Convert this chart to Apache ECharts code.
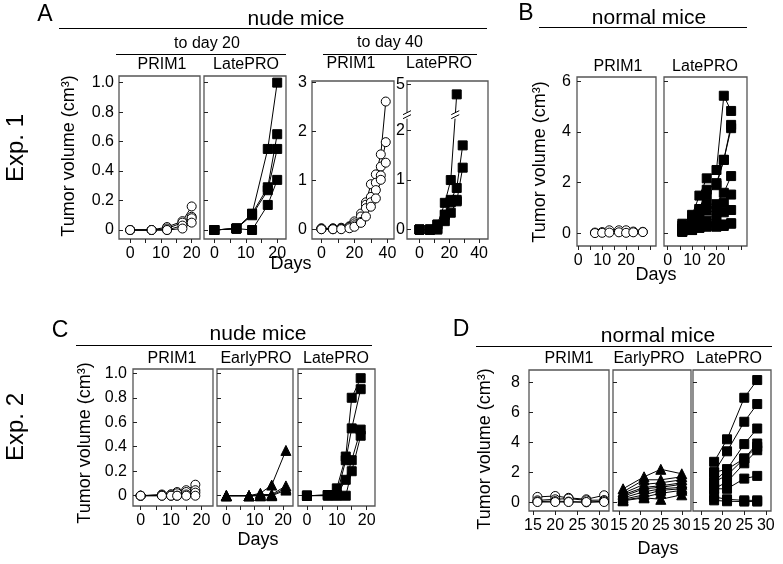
<!DOCTYPE html>
<html>
<head>
<meta charset="utf-8">
<script src="https://cdn.jsdelivr.net/npm/echarts@6/dist/echarts.min.js"></script>
<style>
  html, body { margin: 0; padding: 0; background: #fff; }
  #main { width: 783px; height: 564px; }
</style>
</head>
<body>
<div id="main"></div>
<script>
// Exp. 1, A: nude mice, to day 20
const aDays20 = [0, 7, 12, 17, 20]
const aPrim1Vol20 = [
  [0, 0, 0.02, 0.06, 0.16],
  [0, 0, 0.01, 0.05, 0.09],
  [0, 0, 0, 0.03, 0.08],
  [0, 0, 0, 0.01, 0.05]
]
const aLateVol20 = [
  [0, 0.01, 0.11, 0.55, 1.0],
  [0, 0.01, 0.11, 0.29, 0.65],
  [0, 0.01, 0.1, 0.27, 0.55],
  [0, 0.01, 0, 0.17, 0.34]
]
// A: to day 40
const aPrim1Days40 = [0, 7, 12, 17, 20, 24, 27, 30, 33, 36, 39]
const aPrim1Vol40 = [
  [0.02, 0.02, 0.03, 0.06, 0.16, 0.32, 0.55, 0.92, 1.12, 1.53, 2.61],
  [0.01, 0.01, 0.02, 0.05, 0.12, 0.26, 0.5, 0.66, 0.95, 1.28, 1.78],
  [0, 0, 0.01, 0.04, 0.08, 0.15, 0.43, 0.55, 0.8, 1.1, 1.36],
  [0, 0, 0, 0.02, 0.05, 0.13, 0.26, 0.46, 0.63, 1.01]
]
const aLateDays40 = [0, 7, 12, 17, 21, 25, 29]
const aLateVol40 = [
  [0, 0, 0.1, 0.54, 1.0, 4.8],
  [0, 0, 0.1, 0.3, 0.6, 0.84, 1.7],
  [0, 0, 0, 0.17, 0.34, 0.57, 1.25],
  [0, 0, 0.02, 0.3, 0.55, 0.6]
]
// B: normal mice
const bPrim1Days = [7, 10, 13, 17, 20, 23, 27]
const bPrim1Vol = [
  [0.03, 0.05, 0.12, 0.12, 0.12, 0.07, 0.06],
  [0.01, 0.02, 0.03, 0.04, 0.02, 0.04, 0.05]
]
const bLateDays = [6, 10, 13, 16, 20, 23, 26]
const bLateVol = [
  [0.38, 0.73, 1.49, 2.17, 2.5, 5.43, 4.83],
  [0.3, 0.57, 0.96, 1.72, 1.98, 2.9, 4.28],
  [0.19, 0.45, 0.96, 1.5, 1.9, 2.9, 4.15],
  [0.19, 0.45, 0.7, 1.15, 1.15, 1.6, 2.26],
  [0.12, 0.26, 0.45, 0.9, 0.83, 1.2, 1.53],
  [0.06, 0.13, 0.22, 0.5, 0.57, 0.83, 0.92],
  [0.06, 0.13, 0.22, 0.26, 0.26, 0.29, 0.38],
  [0.1, 0.2, 0.3, 0.3, 0.3, 0.35, 0.4]
]
// Exp. 2, C: nude mice
const cPrim1Days = [0, 7, 10, 12, 15, 18]
const cPrim1Vol = [
  [0, 0.01, 0.01, 0.03, 0.045, 0.09],
  [0, 0.005, 0.01, 0.02, 0.03, 0.045],
  [0, 0, 0, 0, 0.01, 0.025],
  [0, 0, 0, 0, 0, 0]
]
const cEarlyDays = [0, 8, 12, 16, 21]
const cEarlyVol = [
  [0, 0, 0.02, 0.087, 0.37],
  [0, 0, 0.01, 0.01, 0.08],
  [0, 0, 0, 0.005, 0.06],
  [0, 0, 0, 0, 0.046]
]
const cLateDays = [0, 7, 10, 13, 15, 18]
const cLateVol = [
  [0, 0.005, 0.06, 0.32, 0.8, 0.96],
  [0, 0.005, 0.005, 0.29, 0.55, 0.87],
  [0, 0.005, 0.005, 0.13, 0.29, 0.54],
  [0, 0, 0, 0, 0.2, 0.49]
]
// D: normal mice
const dPrim1Days = [16, 20, 23, 27, 31]
const dPrim1Vol = [
  [0.36, 0.42, 0.3, 0.2, 0.47],
  [0.13, 0.2, 0.25, 0.13, 0.15],
  [0.05, 0.08, 0.05, 0.0, 0.08],
  [0.02, 0.02, 0.02, 0.02, 0.02]
]
const dEarlyDays = [16, 21, 25, 30]
const dEarlyVol = [
  [0.9, 1.7, 2.2, 1.9],
  [0.7, 1.5, 1.5, 1.7],
  [0.6, 1.2, 1.3, 1.5],
  [0.5, 1.0, 1.1, 1.3],
  [0.4, 0.9, 1.0, 1.2],
  [0.3, 0.7, 0.9, 1.0],
  [0.2, 0.5, 0.8, 0.9],
  [0.15, 0.35, 0.6, 0.8],
  [0.1, 0.3, 0.2, 0.5]
]
const dLateDays = [18, 21, 25, 28]
const dLateVol = [
  [2.7, 4.2, 6.97, 8.15],
  [2.0, 3.4, 5.37, 6.55],
  [2.0, 2.2, 3.88, 4.92],
  [1.36, 2.2, 2.92, 3.92],
  [1.36, 1.8, 2.92, 3.7],
  [0.9, 1.36, 2.6, 3.47],
  [0.9, 0.9, 1.58, 1.76],
  [0.36, 0.2, 0.13, 0.13],
  [0.13, 0.07, 0.05, 0.05]
]

// tick labels
const ticksFrac = [0, 0.2, 0.4, 0.6, 0.8, 1]
const ticks40 = [0, 1, 2, 3]
const ticksBreak = [0, 1, 2, 5]
const ticksB = [0, 2, 4, 6]
const ticksD = [0, 2, 4, 6, 8]
const daysTo20 = [0, 10, 20]
const daysTo40 = [0, 20, 40]
const daysD = [15, 20, 25, 30]

const FONT = '"Liberation Sans", Arial, Helvetica, sans-serif'

// broken y axis of the "to day 40" LatePRO panel: values above the break are shifted down
const BREAK_SHIFT = 2.07
const breakPos = v => (v < 3 ? v : v - BREAK_SHIFT)
const fmtFrac = v => (v === 0 ? '0' : v.toFixed(1))
const fmtInt = v => String(Math.round(v))

const panels = [
  { box: [119, 76, 81, 163], x: [-3.6, 22.7], y: [-0.061, 1.045], xl: daysTo20, xt: [0, 5, 10, 15, 20], yt: ticksFrac, fmt: fmtFrac, ym: 5, days: aDays20, vols: aPrim1Vol20, mark: 'open' },
  { box: [204, 76, 82, 163], x: [-3.3, 22.8], y: [-0.061, 1.045], xl: daysTo20, xt: [0, 5, 10, 15, 20], yt: ticksFrac, days: aDays20, vols: aLateVol20, mark: 'square' },
  { box: [312, 81, 82, 158], x: [-5.7, 44], y: [-0.2, 3.03], xl: daysTo40, xt: [0, 10, 20, 30, 40], yt: ticks40, fmt: fmtInt, ym: 5, days: aPrim1Days40, vols: aPrim1Vol40, mark: 'open' },
  { box: [407, 81, 81, 158], x: [-8.4, 46], y: [-0.19, 3.0], xl: daysTo40, xt: [0, 10, 20, 30, 40], yt: ticksBreak.map(breakPos), fmt: v => fmtInt(v < 2.5 ? v : v + BREAK_SHIFT), ym: 2, days: aLateDays40, vols: aLateVol40, mark: 'square', map: breakPos },
  { box: [577, 77, 79, 169], x: [-0.5, 32.5], y: [-0.5, 6.17], xl: daysTo20, xt: [0, 5, 10, 15, 20, 25, 30], yt: ticksB, fmt: fmtInt, ym: 6, days: bPrim1Days, vols: bPrim1Vol, mark: 'open' },
  { box: [664, 77, 83, 169], x: [-1.5, 32.5], y: [-0.5, 6.17], xl: daysTo20, xt: [0, 5, 10, 15, 20, 25, 30], yt: ticksB, days: bLateDays, vols: bLateVol, mark: 'square' },
  { box: [133, 369, 80, 137], x: [-2.5, 23.8], y: [-0.084, 1.035], xl: daysTo20, xt: [0, 5, 10, 15, 20], yt: ticksFrac, fmt: fmtFrac, ym: 6, days: cPrim1Days, vols: cPrim1Vol, mark: 'open' },
  { box: [217, 369, 76, 137], x: [-3.3, 23.5], y: [-0.084, 1.035], xl: daysTo20, xt: [0, 5, 10, 15, 20], yt: ticksFrac, days: cEarlyDays, vols: cEarlyVol, mark: 'triangle' },
  { box: [298, 369, 77, 137], x: [-3.0, 22.8], y: [-0.084, 1.035], xl: daysTo20, xt: [0, 5, 10, 15, 20], yt: ticksFrac, days: cLateDays, vols: cLateVol, mark: 'square' },
  { box: [529, 370, 80, 141], x: [14.1, 32.1], y: [-0.58, 8.82], xl: daysD, xt: daysD, yt: ticksD, fmt: fmtInt, ym: 9, days: dPrim1Days, vols: dPrim1Vol, mark: 'open' },
  { box: [613, 370, 78, 141], x: [13.6, 32.2], y: [-0.58, 8.82], xl: daysD, xt: daysD, yt: ticksD, days: dEarlyDays, vols: dEarlyVol, mark: 'triangle' },
  { box: [693, 370, 78, 141], x: [13.1, 31.2], y: [-0.58, 8.82], xl: daysD, xt: daysD, yt: ticksD, days: dLateDays, vols: dLateVol, mark: 'square' }
]

const markStyles = {
  open: { symbol: 'circle', size: 9, fill: '#fff' },
  square: { symbol: 'rect', size: 9, fill: '#000' },
  triangle: { symbol: 'triangle', size: 10, fill: '#000' }
}

const grid = []
const xAxis = []
const yAxis = []
const series = []

panels.forEach((p, i) => {
  grid.push({
    left: p.box[0], top: p.box[1], width: p.box[2], height: p.box[3],
    show: true, borderColor: '#555', borderWidth: 1.3, backgroundColor: '#fff'
  })
  xAxis.push({
    type: 'value', gridIndex: i, min: p.x[0], max: p.x[1],
    splitLine: { show: false },
    axisLine: { show: false, onZero: false },
    axisTick: { show: true, length: 4, customValues: p.xt, lineStyle: { color: '#222', width: 1 } },
    axisLabel: { customValues: p.xl, fontSize: 16, color: '#000', fontFamily: FONT, margin: 7 }
  })
  yAxis.push({
    type: 'value', gridIndex: i, min: p.y[0], max: p.y[1],
    splitLine: { show: false },
    axisLine: { show: false, onZero: false },
    axisTick: { show: true, inside: true, length: 4, customValues: p.yt, lineStyle: { color: '#222', width: 1 } },
    axisLabel: {
      show: !!p.fmt, customValues: p.yt, formatter: p.fmt,
      fontSize: 16, color: '#000', fontFamily: FONT, margin: p.ym || 5
    }
  })
  const m = markStyles[p.mark]
  p.vols.forEach(vals => {
    series.push({
      type: 'line', xAxisIndex: i, yAxisIndex: i,
      data: vals.map((v, k) => [p.days[k], p.map ? p.map(v) : v]),
      symbol: m.symbol, symbolSize: m.size, showSymbol: true,
      lineStyle: { color: '#000', width: 1 },
      itemStyle: { color: m.fill, borderColor: '#000', borderWidth: 1 },
      silent: true, animation: false
    })
  })
})

function label(text, x, y, size, rot) {
  return {
    type: 'text', x: x, y: y, rotation: rot || 0, z: 10,
    style: { text: text, fontSize: size, fontFamily: FONT, fill: '#000', align: 'center', verticalAlign: 'middle' }
  }
}
function rule(x1, x2, y) {
  return { type: 'line', z: 10, shape: { x1: x1, y1: y, x2: x2, y2: y }, style: { stroke: '#000', lineWidth: 1 } }
}

const V = Math.PI / 2
const graphic = [
  // panel letters
  label('A', 45, 15, 23), label('B', 526, 14, 23), label('C', 60, 331, 23), label('D', 461, 330, 23),
  // experiment labels
  label('Exp. 1', 16, 148, 24, V), label('Exp. 2', 16, 427, 24, V),
  // group headers
  label('nude mice', 296, 19, 21), rule(59, 487, 28.5),
  label('normal mice', 649, 18.5, 21), rule(539, 747, 27.5),
  label('nude mice', 258, 334.5, 21), rule(76, 372, 345.5),
  label('normal mice', 658, 336, 21), rule(476, 772, 346.5),
  label('to day 20', 207, 44, 16), rule(116, 286, 54.5),
  label('to day 40', 390, 43, 16), rule(323, 477, 54.5),
  // panel titles
  label('PRIM1', 162, 65, 16), label('LatePRO', 246, 65, 16),
  label('PRIM1', 351, 64, 16), label('LatePRO', 439, 64, 16),
  label('PRIM1', 618, 67, 16), label('LatePRO', 705, 67, 16),
  label('PRIM1', 172, 359, 16), label('EarlyPRO', 256, 359, 16), label('LatePRO', 336, 359, 16),
  label('PRIM1', 569, 359, 16), label('EarlyPRO', 649, 359, 16), label('LatePRO', 729, 359, 16),
  // axis titles
  label('Tumor volume (cm³)', 69, 156, 18, V), label('Tumor volume (cm³)', 540, 162, 18, V),
  label('Tumor volume (cm³)', 85, 443, 18, V), label('Tumor volume (cm³)', 485, 449, 18, V),
  label('Days', 291, 264, 18), label('Days', 656, 275, 18),
  label('Days', 258, 540, 18), label('Days', 658, 549, 18)
]

const chart = echarts.init(document.getElementById('main'))
chart.setOption({
  animation: false,
  backgroundColor: '#fff',
  grid: grid,
  xAxis: xAxis,
  yAxis: yAxis,
  series: series,
  graphic: graphic
})

// axis break marks ("//") for the broken axis panel
const BREAK_AT = 2.3
function breakMark(cx, cy) {
  return [
    { type: 'rect', z: 20, shape: { x: cx - 4, y: cy - 3, width: 8, height: 6 }, style: { fill: '#fff' } },
    { type: 'line', z: 21, shape: { x1: cx - 4, y1: cy - 1, x2: cx + 4, y2: cy - 5 }, style: { stroke: '#000', lineWidth: 1 } },
    { type: 'line', z: 21, shape: { x1: cx - 4, y1: cy + 3, x2: cx + 4, y2: cy - 1 }, style: { stroke: '#000', lineWidth: 1 } }
  ]
}
const brokenLine = aLateVol40[0]
const n = brokenLine.length
const d0 = aLateDays40[n - 2]
const d1 = aLateDays40[n - 1]
const v0 = brokenLine[n - 2]
const v1 = breakPos(brokenLine[n - 1])
const dBreak = d0 + (BREAK_AT - v0) / (v1 - v0) * (d1 - d0)
const axisPt = chart.convertToPixel({ gridIndex: 3 }, [-8.4, BREAK_AT])
const linePt = chart.convertToPixel({ gridIndex: 3 }, [dBreak, BREAK_AT])
chart.setOption({
  graphic: graphic.concat(breakMark(axisPt[0], axisPt[1]), breakMark(linePt[0], linePt[1]))
})
</script>
</body>
</html>
